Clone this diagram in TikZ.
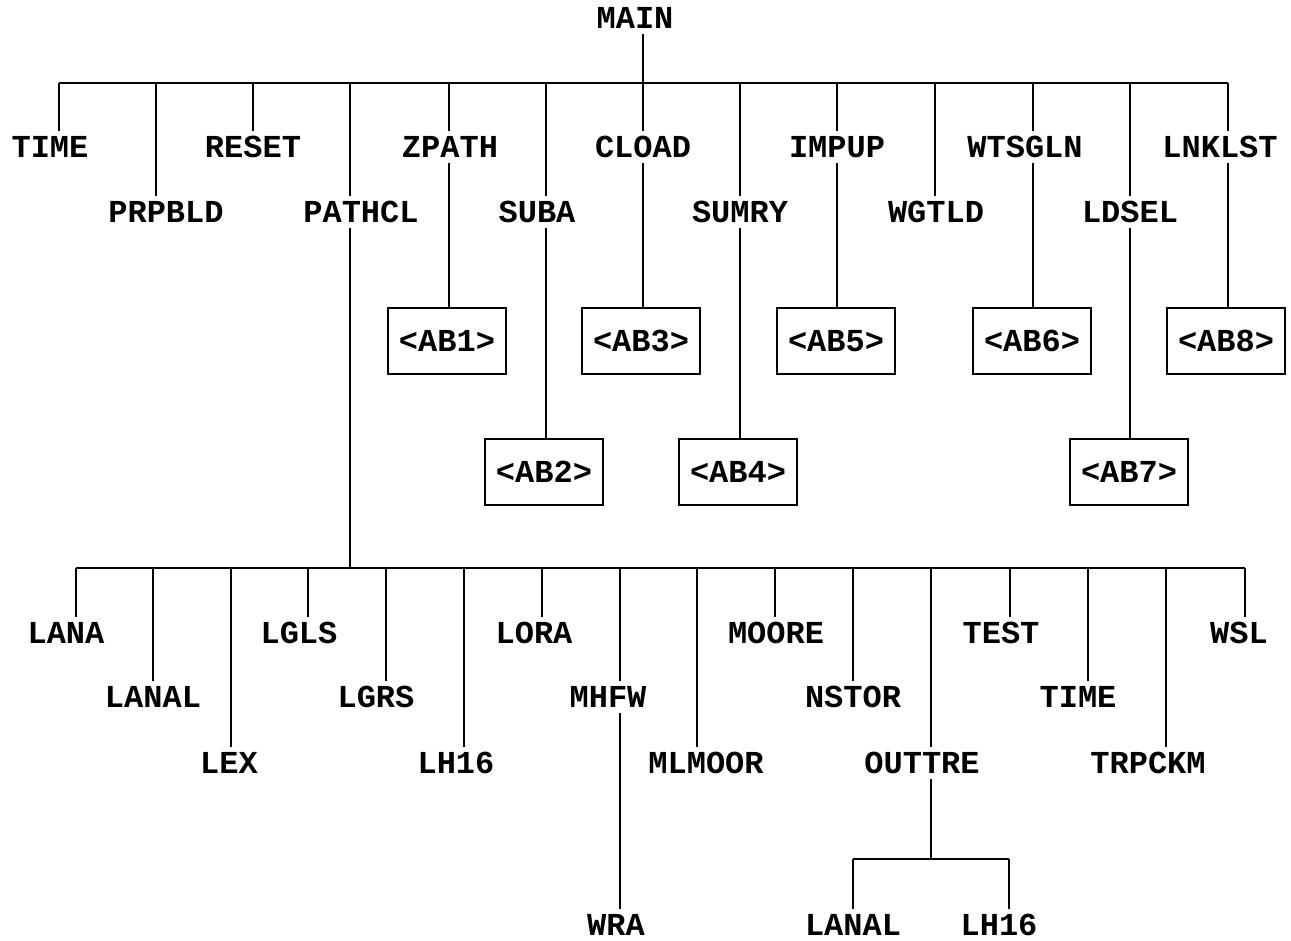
\documentclass[tikz,border=0pt]{standalone}
\usepackage{fontspec}
\newfontfamily\cour{Liberation Mono}
\begin{document}
\begin{tikzpicture}[x=0.75pt,y=-0.75pt,
  lbl/.style={inner sep=0pt,outer sep=4pt,font=\cour\bfseries\fontsize{24}{28}\selectfont},
  abox/.style={draw,line width=1.5pt,minimum width=88pt,minimum height=49.5pt,inner sep=0pt,font=\cour\bfseries\fontsize{24}{28}\selectfont},
  conn/.style={line width=1.5pt}]
\useasboundingbox (0,0) rectangle (1291,940);
% root
\node[lbl] (main) at (635,18) {MAIN};
\coordinate (bar1) at (643,83);
\draw[conn] (main.south -| bar1) -- (bar1);
% level 1
\foreach \n/\lx/\tx/\ty in {TIME/59/50/147,PRPBLD/156/166/212,RESET/253/253/147,PATHCL/350/361/212,ZPATH/449/450/147,SUBA/546/537/212,CLOAD/643/643/147,SUMRY/740/740/212,IMPUP/837/837/147,WGTLD/935/936/212,WTSGLN/1033/1025/147,LDSEL/1130/1130/212,LNKLST/1228/1220/147}{
  \node[lbl] (a\n) at (\tx,\ty) {\n};
  \coordinate (ca\n) at (\lx,83);
  \draw[conn] (ca\n) -- (a\n.north -| ca\n);
}
\draw[conn] (caTIME) -- (caLNKLST);
% boxes
\foreach \b/\p/\bx/\by in {AB1/ZPATH/447/341,AB2/SUBA/544/472,AB3/CLOAD/641/341,AB4/SUMRY/738/472,AB5/IMPUP/836/341,AB6/WTSGLN/1032/341,AB7/LDSEL/1129/472,AB8/LNKLST/1226/341}{
  \node[abox] (\b) at (\bx,\by) {<\b>};
  \draw[conn] (a\p.south -| ca\p) -- (\b.north -| ca\p);
}
% PATHCL subtree
\coordinate (bar2) at (350,568);
\draw[conn] (aPATHCL.south -| caPATHCL) -- (bar2);
\foreach \n/\m/\lx/\tx/\ty in {LANA/LANA/76/66/633,LANAL/LANAL/153/153/697,LEX/LEX/231/229/763,LGLS/LGLS/308/299/633,LGRS/LGRS/386/376/697,LHa/LH16/464/456/763,LORA/LORA/542/534/633,MHFW/MHFW/620/608/697,MLMOOR/MLMOOR/697/706/763,MOORE/MOORE/775/776/633,NSTOR/NSTOR/853/853/697,OUTTRE/OUTTRE/931/922/763,TEST/TEST/1010/1001/633,TIME/TIME/1088/1078/697,TRPCKM/TRPCKM/1166/1148/763,WSL/WSL/1245/1239/633}{
  \node[lbl] (b\n) at (\tx,\ty) {\m};
  \coordinate (cb\n) at (\lx,568);
  \draw[conn] (cb\n) -- (b\n.north -| cb\n);
}
\draw[conn] (cbLANA) -- (cbWSL);
% MHFW -> WRA
\node[lbl] (cWRA) at (616,925) {WRA};
\draw[conn] (bMHFW.south -| cbMHFW) -- (cWRA.north -| cbMHFW);
% OUTTRE -> LANAL, LH16
\coordinate (bar3) at (931,859);
\draw[conn] (bOUTTRE.south -| cbOUTTRE) -- (bar3);
\node[lbl] (cLANAL) at (853,925) {LANAL};
\node[lbl] (cLH16) at (999,925) {LH16};
\coordinate (c3a) at (853,859);
\coordinate (c3b) at (1009,859);
\draw[conn] (c3a) -- (c3b);
\draw[conn] (c3a) -- (cLANAL.north -| c3a);
\draw[conn] (c3b) -- (cLH16.north -| c3b);
\end{tikzpicture}
\end{document}
